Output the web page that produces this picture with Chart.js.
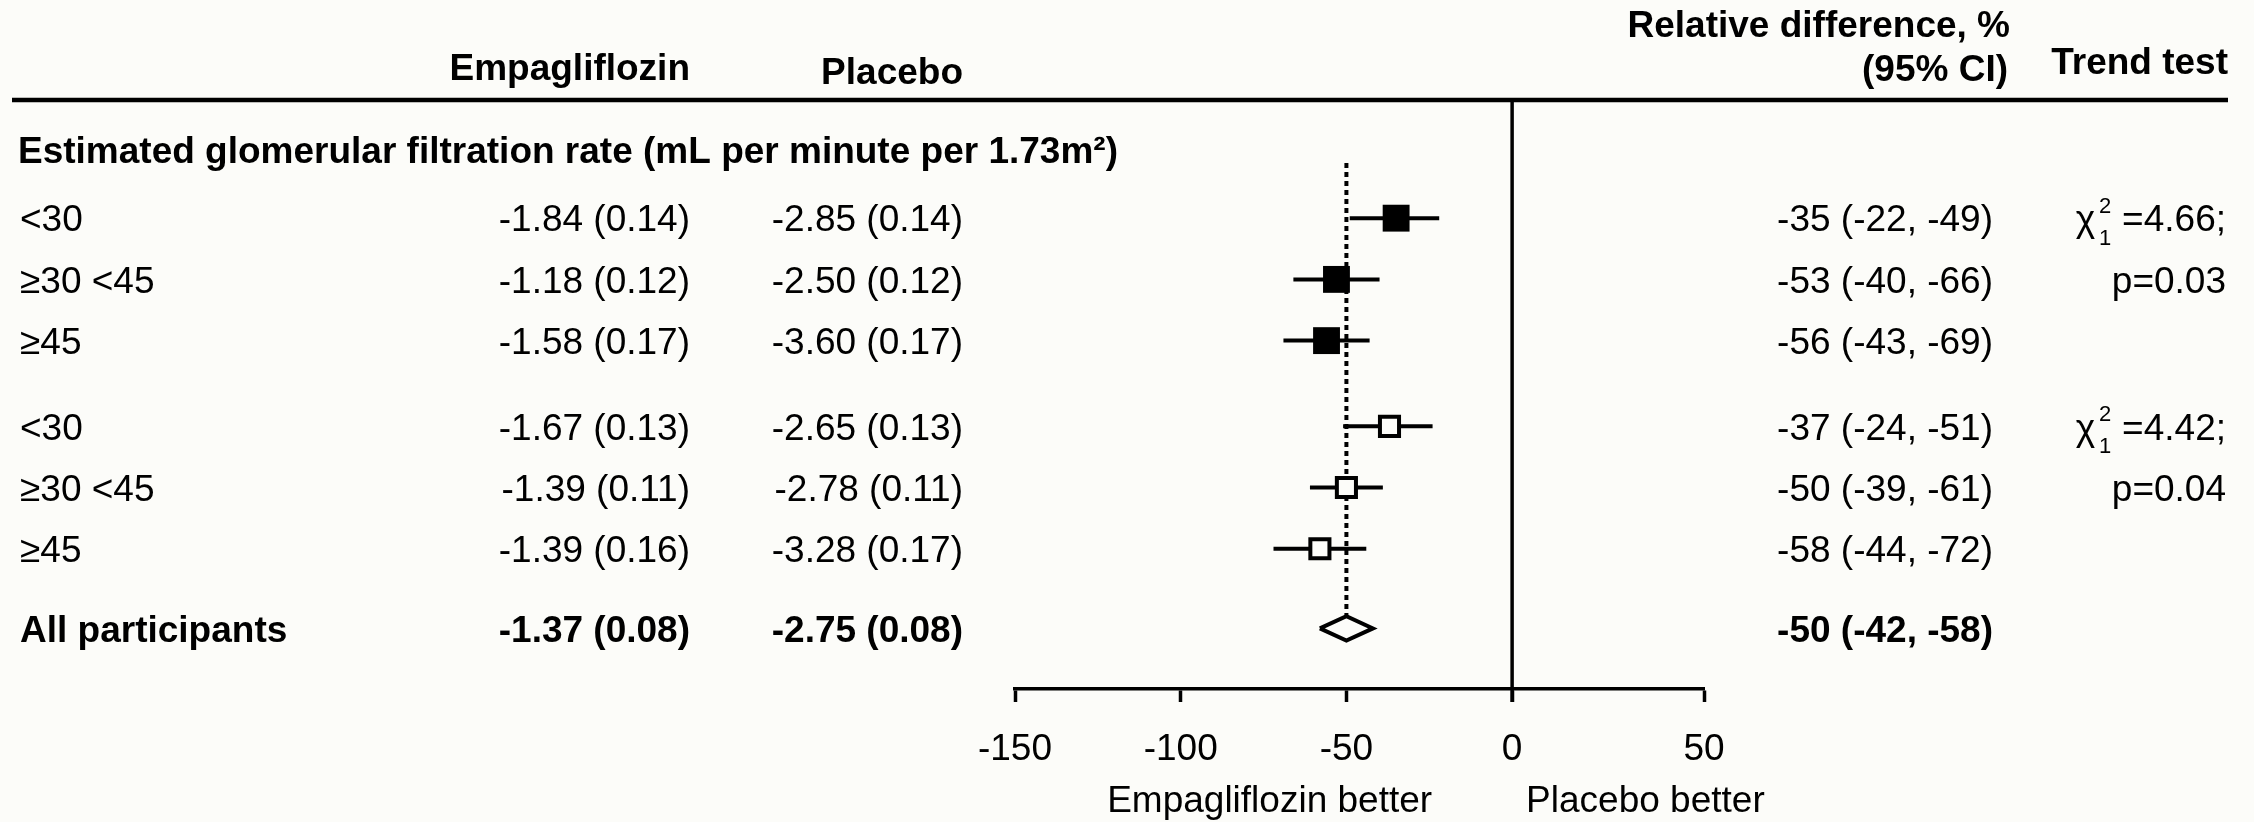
<!DOCTYPE html>
<html>
<head>
<meta charset="utf-8">
<script src="https://cdn.jsdelivr.net/npm/chart.js@4"></script>
<style>
  html, body { margin: 0; padding: 0; background: #fcfcf9; }
  #wrap { width: 2254px; height: 822px; }
</style>
</head>
<body>
<div id="wrap"><canvas id="forest" width="2254" height="822"></canvas></div>
<script>
/* ---------- data ---------- */
const rowLabels = ["<30", "\u226530 <45", "\u226545", "<30", "\u226530 <45", "\u226545", "All participants"];
const rowPos = [1, 2, 3, 4.4, 5.4, 6.4, 7.7];

const empaMean = [-1.84, -1.18, -1.58, -1.67, -1.39, -1.39, -1.37];
const empaSE = [0.14, 0.12, 0.17, 0.13, 0.11, 0.16, 0.08];
const placeboMean = [-2.85, -2.50, -3.60, -2.65, -2.78, -3.28, -2.75];
const placeboSE = [0.14, 0.12, 0.17, 0.13, 0.11, 0.17, 0.08];

const relDiff = [-35, -53, -56, -37, -50, -58, -50];
const ciHigh = [-22, -40, -43, -24, -39, -44, -42];
const ciLow = [-49, -66, -69, -51, -61, -72, -58];

const trendRows = [0, 3];
const trendChi = ["4.66", "4.42"];
const trendP = ["0.03", "0.04"];

// in the original the "50" tick sits at the end of the axis, a bit past 50
const axisMin = -150;
const axisMax = 57.9;
const xTickValues = [-150, -100, -50, 0, axisMax];
const xTickLabels = ["-150", "-100", "-50", "0", "50"];

/* ---------- helpers ---------- */
const FONT = '"Liberation Sans", Arial, Helvetica, sans-serif';
const BG = "#fcfcf9";
const FS = 37;

function txt(ctx, s, x, yCenter, align, bold, size) {
  size = size || FS;
  ctx.font = (bold ? "bold " : "") + size + "px " + FONT;
  ctx.textAlign = align;
  ctx.textBaseline = "alphabetic";
  ctx.fillText(s, x, yCenter + 0.358 * size);
}

function fmt(m, se) {
  return m.toFixed(2) + " (" + se.toFixed(2) + ")";
}

/* ---------- datasets ---------- */
const last = rowPos.length - 1;
const datasets = [];

// filled squares (first subgroup)
datasets.push({
  type: "scatter",
  data: [0, 1, 2].map(i => ({ x: relDiff[i], y: rowPos[i] })),
  pointStyle: "rect",
  pointRadius: 19,
  backgroundColor: "#000",
  borderColor: "#000",
  borderWidth: 0
});

// open squares (second subgroup)
datasets.push({
  type: "scatter",
  data: [3, 4, 5].map(i => ({ x: relDiff[i], y: rowPos[i] })),
  pointStyle: "rect",
  pointRadius: 13.5,
  backgroundColor: BG,
  borderColor: "#000",
  borderWidth: 4
});

// overall diamond
const dh = 0.2;
datasets.push({
  type: "line",
  data: [
    { x: ciLow[last], y: rowPos[last] },
    { x: relDiff[last], y: rowPos[last] - dh },
    { x: ciHigh[last], y: rowPos[last] },
    { x: relDiff[last], y: rowPos[last] + dh },
    { x: ciLow[last], y: rowPos[last] }
  ],
  showLine: true,
  pointRadius: 0,
  borderColor: "#000",
  borderWidth: 4,
  borderJoinStyle: "miter",
  backgroundColor: BG,
  fill: false,
  tension: 0
});

// confidence interval lines
for (let i = 0; i < last; i++) {
  datasets.push({
    type: "line",
    data: [{ x: ciLow[i], y: rowPos[i] }, { x: ciHigh[i], y: rowPos[i] }],
    showLine: true,
    pointRadius: 0,
    borderColor: "#000",
    borderWidth: 4,
    fill: false
  });
}

/* ---------- table text + reference lines ---------- */
const tablePlugin = {
  id: "tablePlugin",
  beforeDatasetsDraw(chart) {
    const ctx = chart.ctx;
    const xs = chart.scales.x;
    const ys = chart.scales.y;
    const xr = xs.getPixelForValue(relDiff[last]);
    ctx.save();
    ctx.strokeStyle = "#000";
    ctx.lineWidth = 4;
    ctx.setLineDash([5, 4]);
    ctx.beginPath();
    ctx.moveTo(xr, ys.getPixelForValue(rowPos[0] - 0.9));
    ctx.lineTo(xr, ys.getPixelForValue(rowPos[last] - dh));
    ctx.stroke();
    ctx.restore();
  },
  afterDraw(chart) {
    const ctx = chart.ctx;
    const xs = chart.scales.x;
    const ys = chart.scales.y;
    const area = chart.chartArea;
    ctx.save();
    ctx.fillStyle = "#000";
    ctx.strokeStyle = "#000";

    // top rule
    ctx.lineWidth = 4.5;
    ctx.beginPath();
    ctx.moveTo(12, area.top);
    ctx.lineTo(2228, area.top);
    ctx.stroke();

    // zero line
    const x0 = xs.getPixelForValue(0);
    ctx.lineWidth = 3.5;
    ctx.beginPath();
    ctx.moveTo(x0, area.top);
    ctx.lineTo(x0, area.bottom + 13);
    ctx.stroke();

    // headers
    txt(ctx, "Empagliflozin", 690, 67, "right", true);
    txt(ctx, "Placebo", 963, 71, "right", true);
    txt(ctx, "Relative difference, %", 2010, 24, "right", true);
    txt(ctx, "(95% CI)", 2008, 68, "right", true);
    txt(ctx, "Trend test", 2228, 61, "right", true);
    txt(ctx, "Estimated glomerular filtration rate (mL per minute per 1.73m\u00b2)", 18, 150, "left", true);

    // rows
    for (let i = 0; i < rowPos.length; i++) {
      const y = ys.getPixelForValue(rowPos[i]);
      const b = i === last;
      txt(ctx, rowLabels[i], 20, y, "left", b);
      txt(ctx, fmt(empaMean[i], empaSE[i]), 690, y, "right", b);
      txt(ctx, fmt(placeboMean[i], placeboSE[i]), 963, y, "right", b);
      txt(ctx, relDiff[i] + " (" + ciHigh[i] + ", " + ciLow[i] + ")", 1993, y, "right", b);
    }

    // trend tests
    for (let k = 0; k < trendRows.length; k++) {
      const y1 = ys.getPixelForValue(rowPos[trendRows[k]]);
      const y2 = ys.getPixelForValue(rowPos[trendRows[k] + 1]);
      const right = 2226;
      const eq = "=" + trendChi[k] + ";";
      ctx.font = FS + "px " + FONT;
      const w = ctx.measureText(eq).width;
      const xe = right - w;
      txt(ctx, eq, right, y1, "right", false);
      txt(ctx, "2", xe - 17, y1 - 13, "center", false, 22);
      txt(ctx, "1", xe - 17, y1 + 19, "center", false, 22);
      txt(ctx, "\u03c7", xe - 27, y1, "right", false);
      txt(ctx, "p=" + trendP[k], right, y2, "right", false);
    }

    // direction labels
    txt(ctx, "Empagliflozin better", x0 - 80, 799, "right", false);
    txt(ctx, "Placebo better", x0 + 14, 799, "left", false);
    ctx.restore();
  }
};

/* ---------- chart ---------- */
new Chart(document.getElementById("forest"), {
  type: "scatter",
  data: { datasets: datasets },
  plugins: [tablePlugin],
  options: {
    responsive: false,
    animation: false,
    devicePixelRatio: 1,
    layout: { padding: { left: 1015, right: 550, top: 100, bottom: 0 } },
    plugins: { legend: { display: false }, tooltip: { enabled: false } },
    scales: {
      x: {
        type: "linear",
        min: axisMin,
        max: axisMax,
        afterBuildTicks: scale => { scale.ticks = xTickValues.map(v => ({ value: v })); },
        afterFit: scale => { scale.height = 133; },
        border: { display: true, color: "#000", width: 3.5 },
        grid: { drawOnChartArea: false, drawTicks: true, tickLength: 13, tickWidth: 3.5, tickColor: "#000" },
        ticks: {
          color: "#000",
          padding: 26,
          font: { family: FONT, size: FS },
          callback: (value, index) => xTickLabels[index]
        }
      },
      y: {
        type: "linear",
        display: false,
        reverse: true,
        min: -0.93,
        max: 8.69
      }
    }
  }
});
</script>
</body>
</html>
